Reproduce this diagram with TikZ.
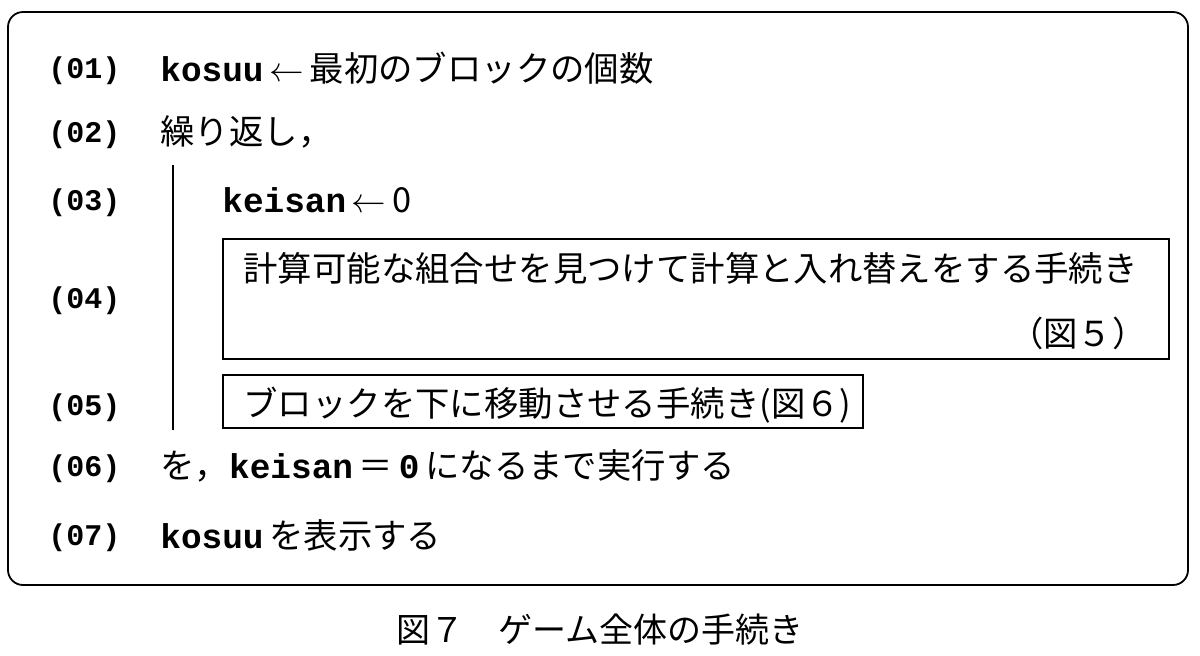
\documentclass[tikz,border=0pt]{standalone}
\usepackage{fontspec}
\setmainfont{Noto Sans CJK JP}
\newfontfamily\codefont{Liberation Mono}
\newcommand{\code}[1]{{\codefont\bfseries #1}}

\tikzset{
    lbl/.style={anchor=west, inner sep=0pt, font=\codefont\bfseries\fontsize{15}{18}\selectfont},
    txt/.style={anchor=west, inner sep=0pt, font=\fontsize{17.2}{20}\selectfont},
    procbox/.style={draw, line width=0.8pt, anchor=north west, inner sep=0pt}
}

\begin{document}
\begin{tikzpicture}[x=0.5pt, y=-0.5pt]
    \useasboundingbox (0,0) rectangle (1200,655);

    % Outer frame
    \draw[line width=0.9pt, rounded corners=7.5pt] (8,12) rectangle (1188,585);

    % Line numbers
    \foreach \n/\y in {01/71,02/135,03/203,04/301,05/408,06/469,07/538} {
        \node[lbl] (l\n) at (48,\y) {(\n)};
    }

    % Statements
    \node[txt] (t01) at (160,68) {\code{kosuu}\,$\leftarrow$\,最初のブロックの個数};
    \node[txt] (t02) at (160,132) {繰り返し，};
    \node[txt] (t03) at (222,200) {\code{keisan}\,$\leftarrow$\,0};

    % Loop body bar
    \coordinate (bartop) at (173,165);
    \coordinate (barbot) at (173,430);
    \draw[line width=0.7pt] (bartop) -- (barbot);

    % Procedure boxes
    \node[procbox, minimum width=473pt, minimum height=60pt] (b04) at (222,238) {};
    \node[txt] (t04) at (243,268) {計算可能な組合せを見つけて計算と入れ替えをする手続き};
    \node[txt, anchor=east] (f04) at (1147,333) {（図５）};
    \node[procbox, minimum width=320pt, minimum height=26.5pt] (b05) at (222,374) {};
    \node[txt] (t05) at (243,405) {ブロックを下に移動させる手続き(図６)};

    \node[txt] (t06) at (160,466) {を，\code{keisan}\,＝\,\code{0}\,になるまで実行する};
    \node[txt] (t07) at (160,535) {\code{kosuu}\,を表示する};

    % Caption
    \node[font=\fontsize{17}{20}\selectfont, inner sep=0pt] (cap) at (600,630) {図７　ゲーム全体の手続き};
\end{tikzpicture}
\end{document}
